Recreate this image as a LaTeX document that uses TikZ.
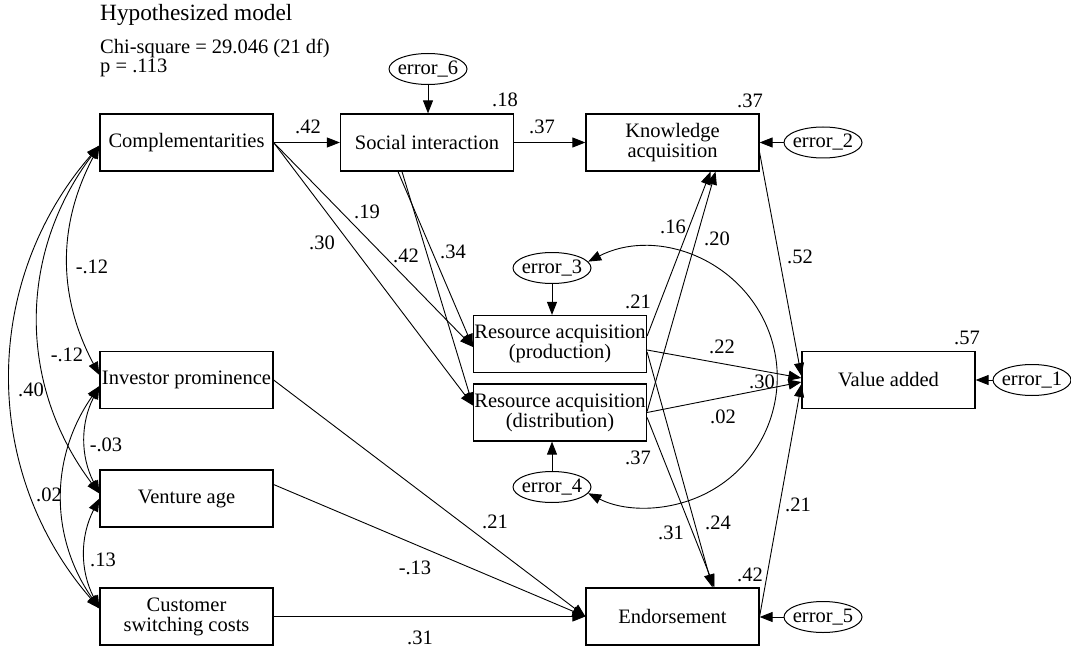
\documentclass[tikz,border=0pt]{standalone}
\usepackage{fontspec}
\setmainfont{Liberation Serif}
\usetikzlibrary{arrows.meta,calc,shapes.geometric}
\begin{document}
\begin{tikzpicture}[x=1pt,y=-1pt,
  every node/.style={font=\fontsize{20.5}{20}\selectfont},
  var/.style={draw,line width=1.2pt,minimum width=173pt,minimum height=57pt,inner sep=0pt,align=center},
  err/.style={draw,ellipse,line width=1pt,minimum width=76pt,minimum height=31pt,inner ysep=0pt,inner xsep=-2.6pt},
  path/.style={line width=0.9pt,-{Triangle[length=13pt,width=10pt]}},
  cov/.style={line width=0.9pt,{Triangle[length=13pt,width=10pt]}-{Triangle[length=13pt,width=10pt]}},
  coef/.style={inner sep=0pt},
]
\useasboundingbox (0,0) rectangle (1071,650);

% header
\node[anchor=base west,inner sep=0pt,font=\fontsize{23.3}{24}\selectfont] (title) at (100,21) {Hypothesized model};
\node[anchor=base west,inner sep=0pt] (chi) at (100,54) {Chi-square = 29.046 (21 df)};
\node[anchor=base west,inner sep=0pt] (pval) at (100,73) {p = .113};

% observed variables
\node[var] (comp) at (186.5,142.5) {Complementarities};
\node[var] (si)   at (427,142.5)   {Social interaction};
\node[var] (ka)   at (672.5,142.5) {Knowledge\\acquisition};
\node[var] (ip)   at (186.5,380)   {Investor prominence};
\node[var] (age)  at (186.5,498.5) {Venture age};
\node[var] (csc)  at (186.5,616.5) {Customer\\switching costs};
\node[var] (rap)  at (560,344)     {Resource acquisition\\(production)};
\node[var] (rad)  at (560,412.5)   {Resource acquisition\\(distribution)};
\node[var] (endo) at (672.5,616.5) {Endorsement};
\node[var] (vadd) at (888.5,380)   {Value added};

% error terms
\node[err] (e6) at (428,69)    {error\_6};
\node[err] (e2) at (823,142.5) {error\_2};
\node[err] (e1) at (1032,380)  {error\_1};
\node[err] (e3) at (552,268)   {error\_3};
\node[err] (e4) at (552,487)   {error\_4};
\node[err] (e5) at (823,617)   {error\_5};

% error paths
\draw[path] (e6.south) -- (e6.south |- si.north);
\draw[path] (e2.west) -- (ka.east);
\draw[path] (e1.west) -- (vadd.east);
\draw[path] (e5.west) -- (e5.west -| endo.east);
\draw[path] (e3.south) -- (e3.south |- rap.north);
\draw[path] (e4.north) -- (e4.north |- rad.south);

% structural paths
\draw[path] (comp.east) -- (si.west);
\draw[path] (si.east) -- (ka.west);
\draw[path] (comp.east) -- ($(rap.west)+(0,3)$);
\draw[path] (comp.east) -- ($(rad.west)+(0,-7)$);
\draw[path] ($(si.south)+(-29,0)$) -- ($(rap.west)+(0,3)$);
\draw[path] ($(si.south)+(-25,0)$) -- ($(rad.west)+(0,-7)$);
\draw[path] ($(rap.east)+(0,-8)$) -- ($(ka.south)+(38,0)$);
\draw[path] ($(rad.east)+(0,-1)$) -- ($(ka.south)+(43,0)$);
\draw[path] ($(rap.east)+(0,6)$) -- ($(vadd.west)+(0,-2)$);
\draw[path] (rad.east) -- ($(vadd.west)+(0,2)$);
\draw[path] ($(rap.east)+(0,8)$) -- ($(endo.north)+(40,0)$);
\draw[path] ($(rad.east)+(0,5)$) -- ($(endo.north)+(42,0)$);
\draw[path] ($(ka.east)+(0,10)$) -- ($(vadd.west)+(0,-4)$);
\draw[path] (endo.east) -- ($(vadd.west)+(0,4)$);
\draw[path] (ip.east) -- (endo.west);
\draw[path] ($(age.east)+(0,-14)$) -- (endo.west);
\draw[path] (csc.east) -- (endo.west);

% covariances among exogenous variables
\draw[cov] ($(comp.west)+(0,3)$) to[bend right=28] ($(ip.west)+(0,-5)$);
\draw[cov] ($(comp.west)+(0,3)$) to[bend right=37] ($(age.west)+(0,-5)$);
\draw[cov] ($(comp.west)+(0,3)$) to[bend right=41] ($(csc.west)+(0,-8)$);
\draw[cov] ($(ip.west)+(0,6)$) to[bend right=27] ($(age.west)+(0,-5)$);
\draw[cov] ($(ip.west)+(0,6)$) to[bend right=35] ($(csc.west)+(0,-8)$);
\draw[cov] (age.west) to[bend right=27] ($(csc.west)+(0,-8)$);

% residual covariance between error_3 and error_4
\draw[cov] (e3.10) arc[start angle=-117, end angle=117, radius=130];

% coefficients
\node[coef] (c1)  at (308,127) {.42};
\node[coef] (c2)  at (542,127) {.37};
\node[coef] (r1)  at (505,100) {.18};
\node[coef] (r2)  at (750,101) {.37};
\node[coef] (c3)  at (367,212) {.19};
\node[coef] (c4)  at (322,243) {.30};
\node[coef] (c5)  at (406,256) {.42};
\node[coef] (c6)  at (453,252) {.34};
\node[coef] (c7)  at (673,227) {.16};
\node[coef] (c8)  at (717,239) {.20};
\node[coef] (c9)  at (800,257) {.52};
\node[coef] (r3)  at (638,302) {.21};
\node[coef] (c10) at (722,347) {.22};
\node[coef] (c11) at (762,382) {.30};
\node[coef] (c12) at (723,417) {.02};
\node[coef] (c13) at (638,458) {.37};
\node[coef] (c14) at (495,522) {.21};
\node[coef] (c15) at (671,533) {.31};
\node[coef] (c16) at (718,523) {.24};
\node[coef] (c17) at (798,505) {.21};
\node[coef] (r4)  at (750,575) {.42};
\node[coef] (r5)  at (967,338) {.57};
\node[coef] (c18) at (415,568) {-.13};
\node[coef] (c19) at (420,638) {.31};
\node[coef] (v1)  at (92,267)  {-.12};
\node[coef] (v2)  at (67,355)  {-.12};
\node[coef] (v3)  at (31,390)  {.40};
\node[coef] (v4)  at (106,445) {-.03};
\node[coef] (v5)  at (49,495)  {.02};
\node[coef] (v6)  at (103,560) {.13};
\end{tikzpicture}
\end{document}
